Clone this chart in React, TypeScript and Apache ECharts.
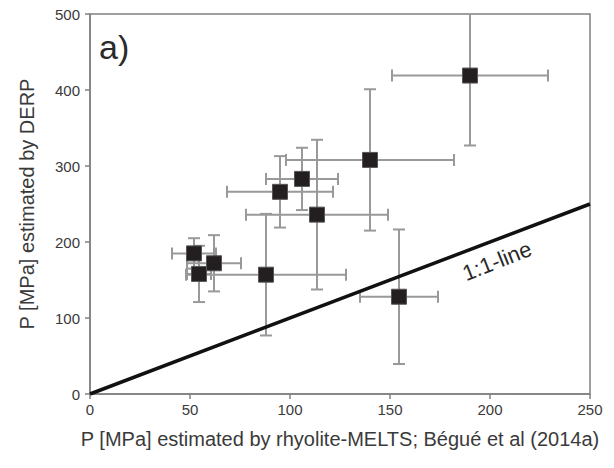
import React, { useEffect, useRef } from "react";
import * as echarts from "echarts";

const xValues = [190, 140, 106, 95, 113.5, 88, 154.5, 52, 54.5, 62];
const yValues = [419, 308, 283, 266, 236, 157, 128, 185, 158, 172];
const xErrors = [39, 42, 18, 26.5, 35.5, 40, 19.5, 11, 6, 13.5];
const yErrors = [92, 93, 41, 47, 98.5, 80, 88.5, 20, 37, 37];
const xTicks = [0, 50, 100, 150, 200, 250];
const yTicks = [0, 100, 200, 300, 400, 500];
const oneToOne = [[0, 0], [250, 250]];

const FONT = "'Liberation Sans', Arial, sans-serif";
const TEXT = "#3a3a3a";
const AXIS = "#808080";

export default function App() {
  const ref = useRef<HTMLDivElement>(null);
  useEffect(() => {
    if (!ref.current) return;
    const chart = echarts.init(ref.current, null, { renderer: "svg" });
    const points = xValues.map((x, i) => [x, yValues[i], xErrors[i], yErrors[i]]);
    chart.setOption({
      animation: false,
      backgroundColor: "#ffffff",
      grid: {
        left: 90,
        right: 24,
        top: 14,
        bottom: 74,
        show: true,
        borderColor: AXIS,
        borderWidth: 1.5,
        backgroundColor: "transparent",
      },
      xAxis: {
        type: "value",
        min: xTicks[0],
        max: xTicks[xTicks.length - 1],
        interval: 50,
        name: "P [MPa] estimated by rhyolite-MELTS; Bégué et al (2014a)",
        nameLocation: "middle",
        nameGap: 35,
        nameTextStyle: { fontFamily: FONT, fontSize: 20, color: TEXT },
        axisLine: { show: true, lineStyle: { color: AXIS, width: 1.5 } },
        axisTick: { show: true, length: 5, lineStyle: { color: AXIS, width: 1.5 } },
        axisLabel: { fontFamily: FONT, fontSize: 15, color: TEXT, margin: 8 },
        splitLine: { show: false },
      },
      yAxis: {
        type: "value",
        min: yTicks[0],
        max: yTicks[yTicks.length - 1],
        interval: 100,
        name: "P [MPa] estimated by DERP",
        nameLocation: "middle",
        nameGap: 53,
        nameTextStyle: { fontFamily: FONT, fontSize: 20, color: TEXT },
        axisLine: { show: true, lineStyle: { color: AXIS, width: 1.5 } },
        axisTick: { show: true, length: 5, lineStyle: { color: AXIS, width: 1.5 } },
        axisLabel: { fontFamily: FONT, fontSize: 15, color: TEXT, margin: 10 },
        splitLine: { show: false },
      },
      graphic: [
        {
          type: "text",
          left: 99,
          top: 30,
          style: { text: "a)", font: `34px ${FONT}`, fill: "#2a2a2a" },
          z: 10,
        },
        {
          type: "text",
          x: 497,
          y: 261,
          rotation: (21.5 * Math.PI) / 180,
          style: {
            text: "1:1-line",
            font: `22px ${FONT}`,
            fill: "#2a2a2a",
            align: "center",
            verticalAlign: "middle",
          },
          z: 10,
        },
      ],
      series: [
        {
          type: "custom",
          z: 1,
          clip: true,
          data: points,
          renderItem: (params: any, api: any) => {
            const x = api.value(0);
            const y = api.value(1);
            const xe = api.value(2);
            const ye = api.value(3);
            const l = api.coord([x - xe, y]);
            const r = api.coord([x + xe, y]);
            const b = api.coord([x, y - ye]);
            const t = api.coord([x, y + ye]);
            const cap = 6;
            const style = { stroke: "#999999", lineWidth: 2 };
            const topClipped = y + ye > 500;
            const children: any[] = [
              { type: "line", shape: { x1: l[0], y1: l[1], x2: r[0], y2: r[1] }, style },
              { type: "line", shape: { x1: l[0], y1: l[1] - cap, x2: l[0], y2: l[1] + cap }, style },
              { type: "line", shape: { x1: r[0], y1: r[1] - cap, x2: r[0], y2: r[1] + cap }, style },
              { type: "line", shape: { x1: b[0], y1: b[1], x2: t[0], y2: t[1] }, style },
              { type: "line", shape: { x1: b[0] - cap, y1: b[1], x2: b[0] + cap, y2: b[1] }, style },
            ];
            if (!topClipped) {
              children.push({ type: "line", shape: { x1: t[0] - cap, y1: t[1], x2: t[0] + cap, y2: t[1] }, style });
            }
            return { type: "group", children };
          },
        },
        {
          type: "line",
          z: 2,
          data: oneToOne,
          symbol: "none",
          lineStyle: { color: "#111111", width: 3.5 },
        },
        {
          type: "scatter",
          z: 3,
          data: points.map((p) => [p[0], p[1]]),
          symbol: "rect",
          symbolSize: 15,
          itemStyle: { color: "#231f20", borderColor: "#555555", borderWidth: 1, opacity: 1 },
        },
      ],
    });
    return () => chart.dispose();
  }, []);
  return <div ref={ref} style={{ width: 614, height: 468, position: "absolute", left: 0, top: 0 }} />;
}
